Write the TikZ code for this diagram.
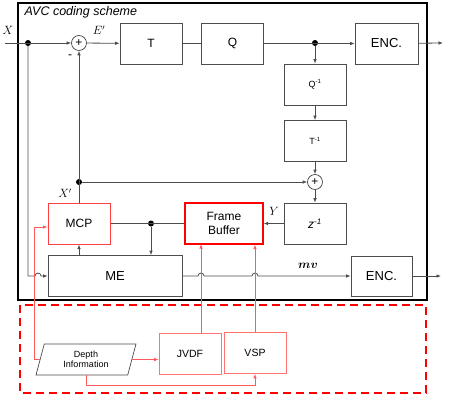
\documentclass[tikz,border=0pt]{standalone}
\usepackage{fontspec}
\setmainfont{Liberation Sans}
\usepackage{amsmath, amssymb}
\usetikzlibrary{arrows.meta, positioning, shapes.geometric}
\tikzset {
    >={Latex[length=4.5pt, width=3.6pt]},
    blk/.style={draw=black!70, line width=0.75pt, minimum width=62pt, minimum height=41pt, font=\fontsize{12}{14}\selectfont},
    smallblk/.style={blk, font=\fontsize{9}{11}\selectfont},
    redblk/.style={blk, draw=red!75, line width=1pt},
    dsblk/.style={blk, draw=red!55, font=\fontsize{10.5}{12}\selectfont},
    sum/.style={circle, draw=black!70, line width=0.75pt, minimum size=15pt, inner sep=0pt, font=\fontsize{12}{12}\selectfont},
    dot/.style={circle, fill=black, inner sep=0pt, minimum size=6pt},
    wire/.style={draw=black!70, line width=0.8pt},
    redwire/.style={draw=red!65, line width=0.8pt},
    lbl/.style={font=\fontsize{12}{14}\selectfont}
}

\begin{document}
\begin{tikzpicture}[x=1pt, y=-1pt]
    \useasboundingbox (0,0) rectangle (450,408);
    \draw[line width=1.5pt] (18,3) rectangle (427,300);
    \draw[red, line width=2pt, dash pattern=on 8pt off 5pt] (20,305) rectangle (426,393);
    \node[anchor=west, font=\itshape\fontsize{12.5}{14}\selectfont] (title) at (21,12) {AVC coding scheme};

    \node[sum] (s1) at (79,43) {+};
    \node[blk] (t) at (151,43.5) {T};
    \node[blk] (q) at (232.5,43.5) {Q};
    \node[blk, minimum width=63pt, font=\fontsize{13}{15}\selectfont] (enc1) at (386.5,43.5) {ENC.};
    \node[smallblk] (qi) at (315,84.5) {Q\textsuperscript{-1}};
    \node[smallblk] (ti) at (315,141) {T\textsuperscript{-1}};
    \node[sum] (s2) at (315,182) {+};
    \node[blk] (zi) at (315,223.5) {\textit{z}\textsuperscript{\textit{-1}}};
    \node[redblk] (mcp) at (79,223.5) {MCP};
    \node[redblk, draw=red, line width=1.4pt, minimum width=78pt, align=center] (fb) at (224,223.5) {Frame\\Buffer};
    \node[blk, minimum width=134pt, font=\fontsize{13}{15}\selectfont] (me) at (115,276) {ME};
    \node[blk, minimum width=61pt, minimum height=40pt, font=\fontsize{13}{15}\selectfont] (enc2) at (381.5,276) {ENC.};
    \node[dsblk] (jvdf) at (190,354) {JVDF};
    \node[dsblk] (vsp) at (255,353) {VSP};
    \node[trapezium, trapezium left angle=66, trapezium right angle=114, trapezium stretches body,
          draw=black!70, line width=0.7pt, minimum width=100pt, minimum height=31pt, inner sep=1pt,
          align=center, font=\fontsize{9}{10}\selectfont] (depth) at (86,359.5) {Depth\\Information};

    \coordinate (xin) at (5,43);
    \coordinate (xout1) at (443,43);
    \coordinate (xout2) at (441,276);
    \coordinate (fbin) at (201,244);

    \node[dot] (j1) at (28,43) {};
    \node[dot] (j2) at (315,43) {};
    \node[dot] (j3) at (79,182) {};
    \node[dot] (j4) at (151,223.5) {};

    \node[lbl] (xlbl) at (8,30) {$X$};
    \node[lbl] (elbl) at (99,30) {$E'$};
    \node[lbl] (minus) at (70,57) {-};
    \node[lbl] (xplbl) at (65,193) {$X'$};
    \node[lbl] (ylbl) at (274,211) {$Y$};
    \node[lbl] (mv) at (308,266) {$\boldsymbol{mv}$};

    \draw[wire,->] (xin) -- (s1.west);
    \draw[wire,->] (s1) -- (t);
    \draw[wire] (t) -- (q);
    \draw[wire,->] (q) -- (enc1);
    \draw[wire,->] (enc1) -- (xout1);
    \draw[wire,->] (j2) -- (qi);
    \draw[wire,->] (qi) -- (ti);
    \draw[wire,->] (ti) -- (s2);
    \draw[wire,->] (s2) -- (zi);
    \draw[wire,->] (zi) -- (fb);
    \draw[wire,->] (mcp) -- (s1);
    \draw[wire,->] (j3) -- (s2);
    \draw[wire] (mcp) -- (fb);
    \draw[wire,->] (j4) -- (j4 |- me.north);
    \draw[wire,->] (me.north -| mcp) -- (mcp);
    \draw[wire,->] (j1) -- (j1 |- me.west) -- ++(7,0) arc[start angle=180, end angle=0, radius=3pt] -- (me.west);
    \draw[wire,->] (me.east) -- ([xshift=-3pt]fbin |- me.east) arc[start angle=180, end angle=0, radius=3pt]
        -- ([xshift=-3pt]vsp.north |- me.east) arc[start angle=180, end angle=0, radius=3pt] -- (enc2.west);
    \draw[wire,->] (enc2) -- (xout2);

    \draw[redwire,->] (depth.east) -- (depth.east -| jvdf.west);
    \draw[redwire,->] (depth.west) -- ++(-5,0) |- ([yshift=-3.5pt]mcp.west);
    \draw[redwire,->] (depth.south) -- ++(0,10) -| (vsp.south);
    \draw[redwire,->] (jvdf.north -| fbin) -- (fbin);
    \draw[redwire,->] (vsp.north) -- (vsp.north |- fb.south);
\end{tikzpicture}
\end{document}
